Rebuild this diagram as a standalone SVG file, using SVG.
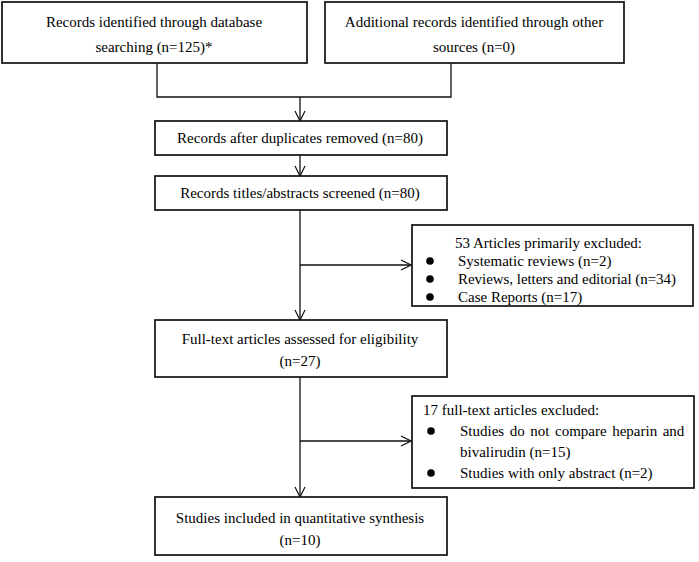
<svg xmlns="http://www.w3.org/2000/svg" width="699" height="562" viewBox="0 0 699 562">
<style>
.b{fill:#fff;stroke:#111;stroke-width:1.7}
.t{font-family:"Liberation Serif","Times New Roman",serif;font-size:15px;fill:#000}
.c{text-anchor:middle}
.l{fill:none;stroke:#111;stroke-width:1.3}
</style>
<defs>
<marker id="a" markerWidth="12" markerHeight="12" refX="11" refY="6" orient="auto" markerUnits="userSpaceOnUse">
<path d="M1,1 L11,6 L1,11" fill="none" stroke="#111" stroke-width="1.2"/>
</marker>
</defs>
<g id="connectors">
<path class="l" d="M157,63 V97 H451 V63"/>
<path class="l" d="M300,97 V121" marker-end="url(#a)"/>
<path class="l" d="M300,155 V176" marker-end="url(#a)"/>
<path class="l" d="M300,210 V320" marker-end="url(#a)"/>
<path class="l" d="M300,265 H411" marker-end="url(#a)"/>
<path class="l" d="M300,377 V497" marker-end="url(#a)"/>
<path class="l" d="M300,441 H411" marker-end="url(#a)"/>
</g>
<g id="n1"><rect class="b" x="2" y="2" width="305" height="61"/>
<text class="t c" x="154" y="27">Records identified through database</text>
<text class="t c" x="154" y="52">searching (n=125)*</text></g>
<g id="n2"><rect class="b" x="325" y="2" width="299" height="61"/>
<text class="t c" x="474" y="27">Additional records identified through other</text>
<text class="t c" x="474" y="52">sources (n=0)</text></g>
<g id="n3"><rect class="b" x="155" y="121" width="292" height="34"/>
<text class="t c" x="300" y="143">Records after duplicates removed (n=80)</text></g>
<g id="n4"><rect class="b" x="155" y="176" width="292" height="34"/>
<text class="t c" x="300" y="198">Records titles/abstracts screened (n=80)</text></g>
<g id="n6"><rect class="b" x="412" y="225" width="281" height="81"/>
<text class="t" x="455" y="248">53 Articles primarily excluded:</text>
<circle cx="430" cy="261" r="3.8"/><text class="t" x="458" y="266">Systematic reviews (n=2)</text>
<circle cx="430" cy="279" r="3.8"/><text class="t" x="458" y="284" textLength="218">Reviews, letters and editorial (n=34)</text>
<circle cx="430" cy="297" r="3.8"/><text class="t" x="458" y="302">Case Reports (n=17)</text></g>
<g id="n5"><rect class="b" x="155" y="320" width="292" height="57"/>
<text class="t c" x="300" y="344">Full-text articles assessed for eligibility</text>
<text class="t c" x="300" y="366">(n=27)</text></g>
<g id="n7"><rect class="b" x="412" y="396" width="282" height="92"/>
<text class="t" x="423" y="415">17 full-text articles excluded:</text>
<circle cx="431" cy="431" r="3.8"/><text class="t" x="460" y="436" word-spacing="1.8">Studies do not compare heparin and</text>
<text class="t" x="460" y="457">bivalirudin (n=15)</text>
<circle cx="431" cy="473" r="3.8"/><text class="t" x="460" y="478">Studies with only abstract (n=2)</text></g>
<g id="n8"><rect class="b" x="155" y="497" width="292" height="58"/>
<text class="t c" x="300" y="523">Studies included in quantitative synthesis</text>
<text class="t c" x="300" y="545">(n=10)</text></g>
</svg>
